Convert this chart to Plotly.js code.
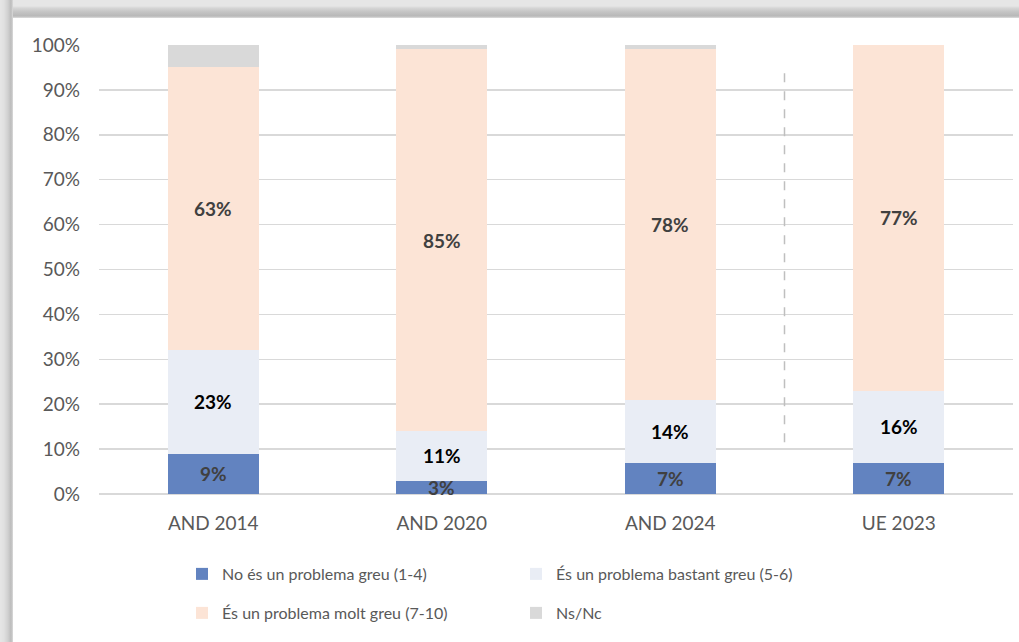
<!DOCTYPE html>
<html>
<head>
<meta charset="utf-8">
<script src="https://cdn.plot.ly/plotly-3.0.1.min.js"></script>
<style>
  html, body { margin: 0; padding: 0; background: #ffffff; overflow: hidden; width: 1019px; height: 642px; }
  #topband { position: absolute; left: 0; top: 0; width: 1019px; height: 18px;
             background: linear-gradient(to bottom, #e6e6e6 0px, #e6e6e6 6px, #d6d6d6 8px, #c4c4c4 12px, #b8b8b8 16px, #dedede 18px); }
  #leftband { position: absolute; left: 0; top: 0; width: 13px; height: 642px;
              background: linear-gradient(to right, #e6e6e6 0px, #e0e0e0 4px, #d0d0d0 8px, #bcbcbc 11px, #dadada 13px); }
  #chart { position: absolute; left: 13px; top: 18px; width: 1006px; height: 624px; background: #fff; overflow: hidden; }
</style>
</head>
<body>
<div id="topband"></div><div id="leftband"></div>
<div id="chart"></div>
<script>
const categories = ['AND 2014', 'AND 2020', 'AND 2024', 'UE 2023'];
const noGreu   = [9, 3, 7, 7];      // No és un problema greu (1-4)
const bastant  = [23, 11, 14, 16];  // És un problema bastant greu (5-6)
const moltGreu = [63, 85, 78, 77];  // És un problema molt greu (7-10)
const nsnc     = [5, 1, 1, 0];      // Ns/Nc
const seriesNames = ['No és un problema greu (1-4)', 'És un problema bastant greu (5-6)',
                     'És un problema molt greu (7-10)', 'Ns/Nc'];
const yTicks = [0, 10, 20, 30, 40, 50, 60, 70, 80, 90, 100];

const colors = ['#6283c0', '#e9edf5', '#fce4d6', '#d9d9d9'];
const labelColors = ['#404040', '#000000', '#404040', null];
const FONT = 'Lato, "Open Sans", sans-serif';

const series = [noGreu, bastant, moltGreu, nsnc];
const legendIds = ['legend', 'legend', 'legend2', 'legend2'];

const traces = series.map((vals, i) => ({
  type: 'bar',
  name: seriesNames[i],
  x: categories,
  y: vals,
  marker: { color: colors[i], line: { width: 0 } },
  legend: legendIds[i],
  hoverinfo: 'x+y+name'
}));

const annotations = [];
categories.forEach((c, j) => {
  let base = 0;
  series.forEach((vals, i) => {
    const v = vals[j];
    if (labelColors[i] && v > 0) {
      annotations.push({
        x: c, y: base + v / 2, xref: 'x', yref: 'y',
        text: '<b>' + v + '%</b>', showarrow: false,
        font: { family: FONT, size: 19, color: labelColors[i] }
      });
    }
    base += v;
  });
});

const layout = {
  width: 1006, height: 624,
  margin: { l: 86, r: 6, t: 27, b: 148 },
  paper_bgcolor: '#ffffff', plot_bgcolor: '#ffffff',
  barmode: 'stack', bargap: 0.6,
  font: { family: FONT, size: 16, color: '#595959' },
  xaxis: {
    type: 'category', range: [-0.5, 3.5], fixedrange: true,
    showgrid: false, showline: false, zeroline: false, ticks: '',
    ticklabelstandoff: 16,
    tickfont: { family: FONT, size: 19, color: '#595959' }
  },
  yaxis: {
    range: [0, 100], tickvals: yTicks, ticktext: yTicks.map(v => v + '%'), fixedrange: true,
    showgrid: true, gridcolor: '#d9d9d9', gridwidth: 1.5,
    zeroline: true, zerolinecolor: '#d9d9d9', zerolinewidth: 1.5,
    showline: false, ticks: '', ticklabelstandoff: 18,
    tickfont: { family: FONT, size: 19, color: '#595959' }
  },
  shapes: [{
    type: 'line', xref: 'x', yref: 'y', x0: 2.5, x1: 2.5, y0: 11.5, y1: 94.5,
    line: { color: '#bfbfbf', width: 1.5, dash: 'dash' }
  }],
  annotations: annotations,
  showlegend: true,
  legend: {
    orientation: 'h', xref: 'container', yref: 'container',
    x: 0.168, y: 0.109, xanchor: 'left', yanchor: 'middle',
    entrywidth: 289, entrywidthmode: 'pixels', traceorder: 'normal',
    font: { family: FONT, size: 16, color: '#595959' }, bgcolor: 'rgba(0,0,0,0)'
  },
  legend2: {
    orientation: 'h', xref: 'container', yref: 'container',
    x: 0.168, y: 0.0465, xanchor: 'left', yanchor: 'middle',
    entrywidth: 289, entrywidthmode: 'pixels', traceorder: 'normal',
    font: { family: FONT, size: 16, color: '#595959' }, bgcolor: 'rgba(0,0,0,0)'
  }
};

Plotly.newPlot('chart', traces, layout, { displayModeBar: false, staticPlot: true });
</script>
</body>
</html>
